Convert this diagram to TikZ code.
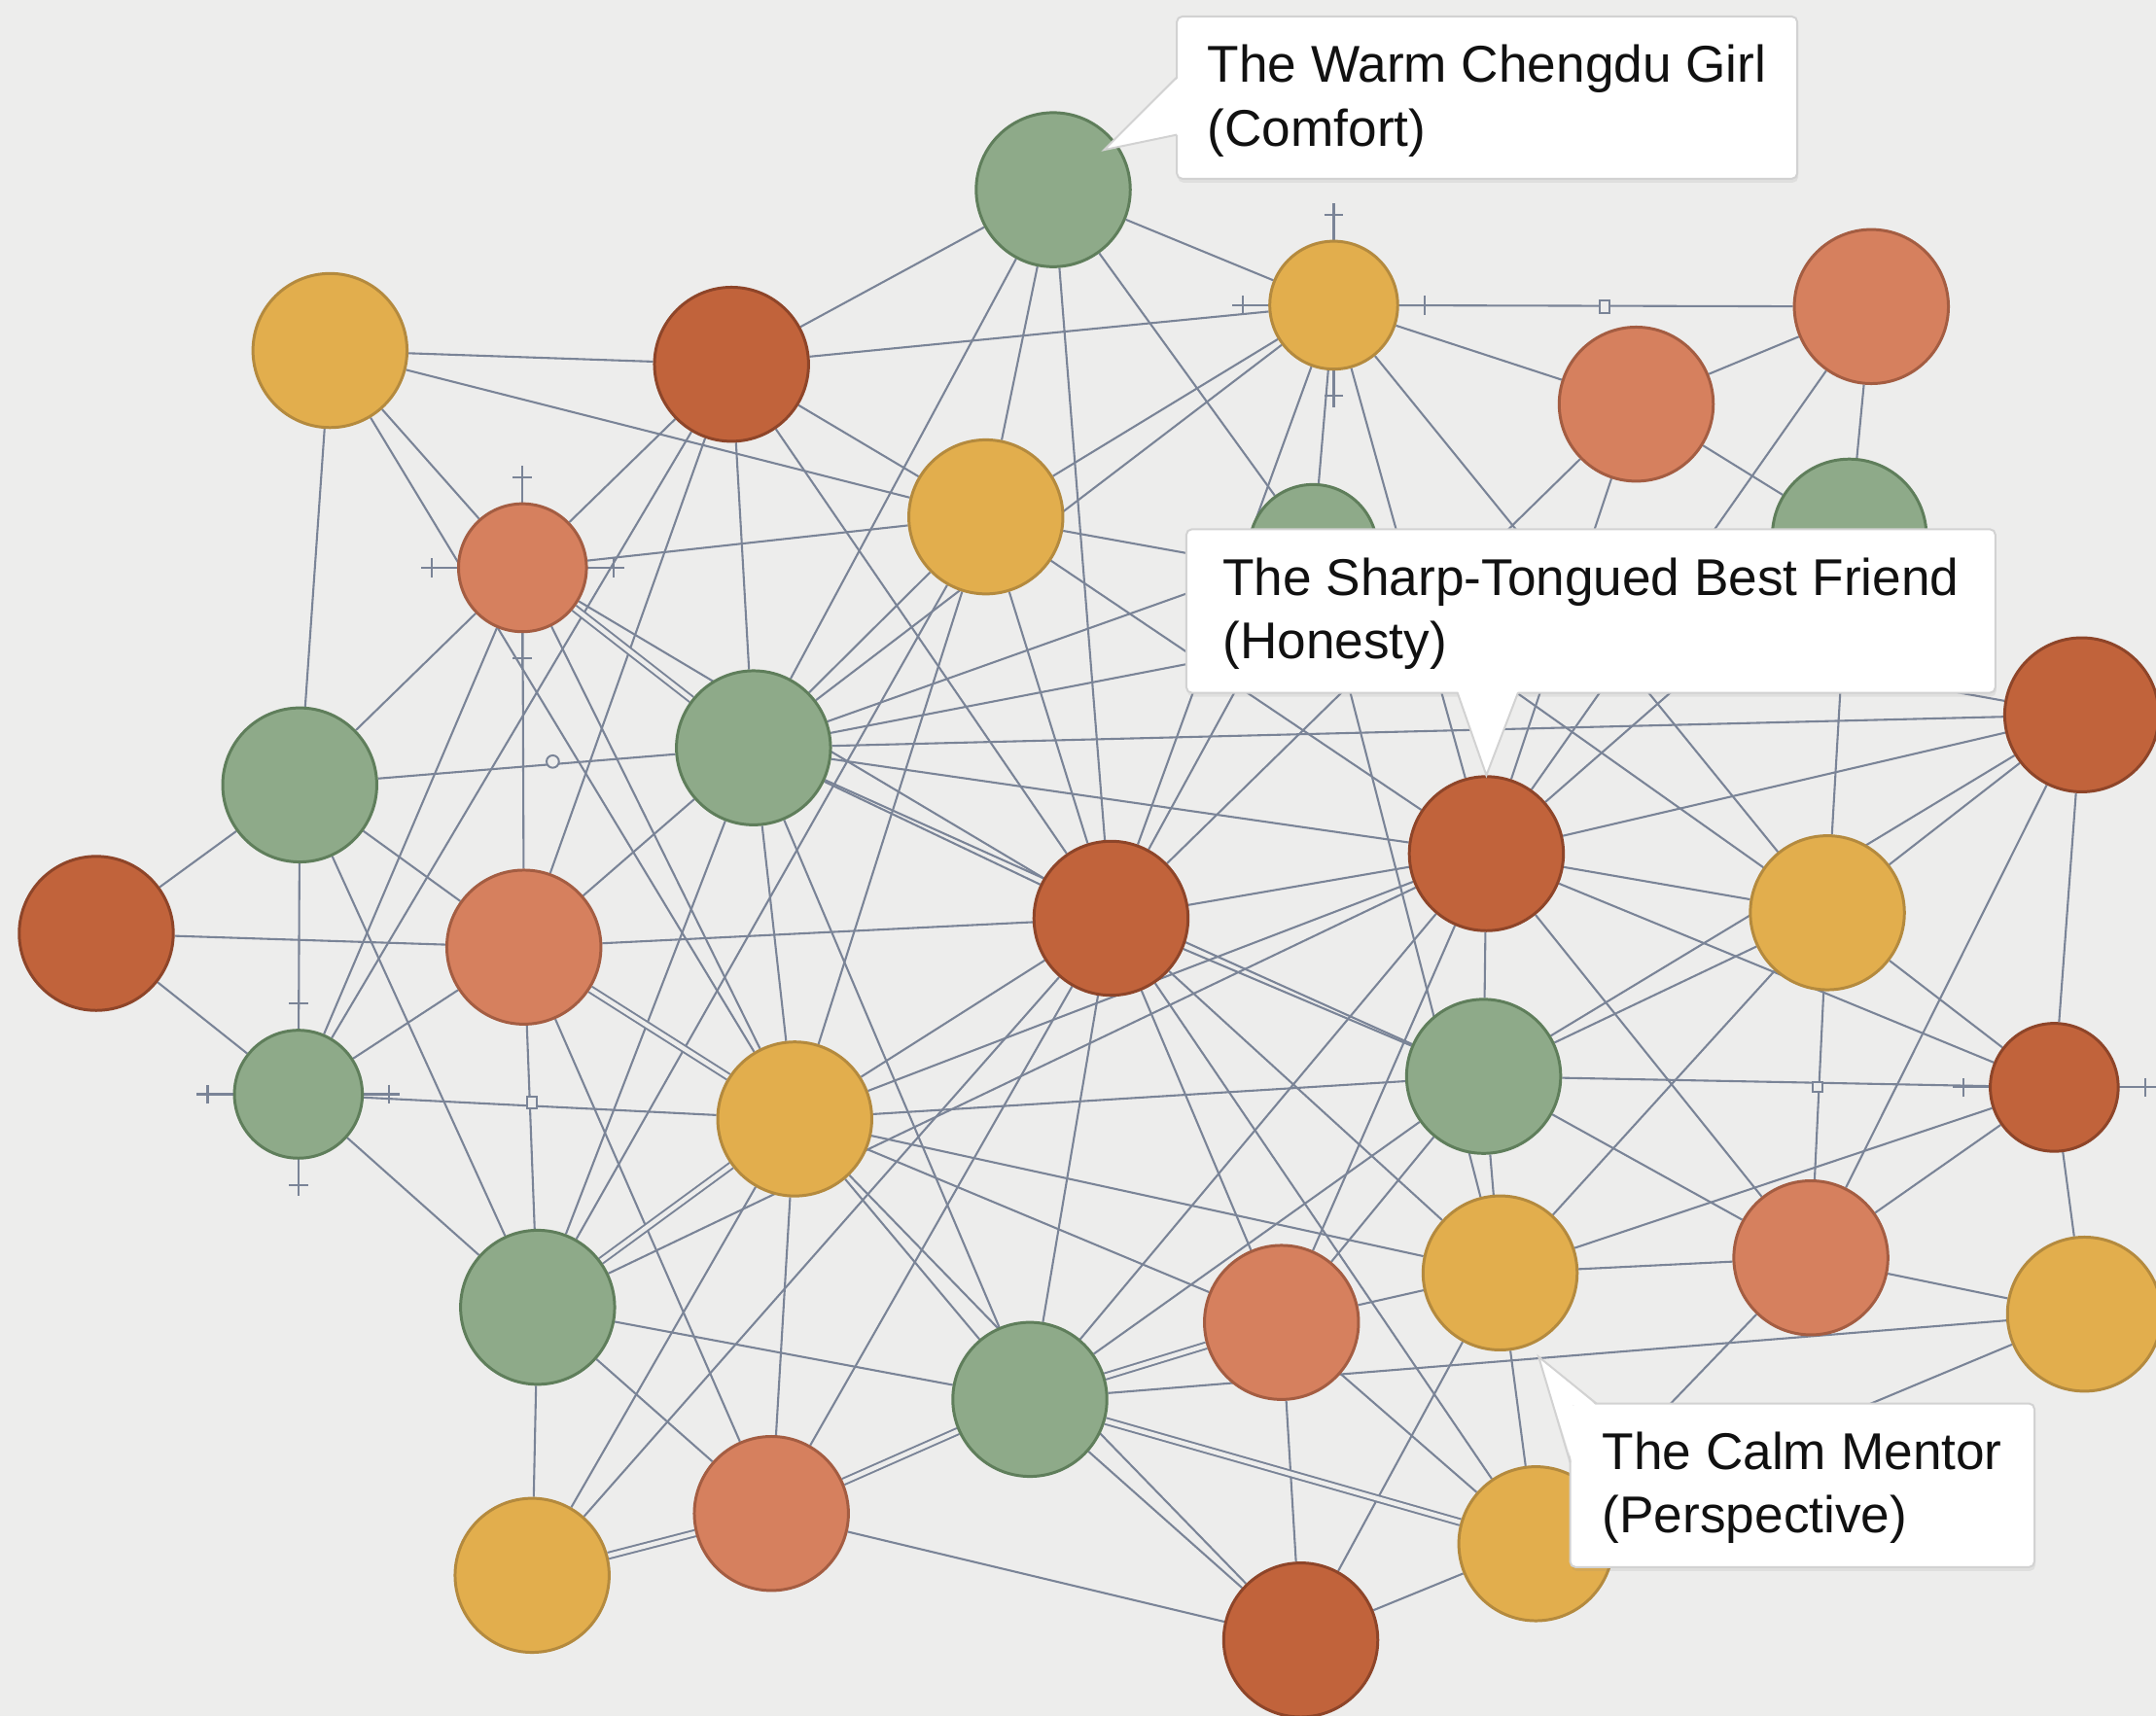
\documentclass[tikz,border=0pt]{standalone}
\usepackage{fontspec}
\setmainfont{Liberation Sans}
\usetikzlibrary{calc,shadows}
\definecolor{bgc}{HTML}{EDEDEC}
\definecolor{edgec}{HTML}{7A8497}
\definecolor{gfill}{HTML}{8EAA89}
\definecolor{gdraw}{HTML}{5F7E5B}
\definecolor{yfill}{HTML}{E2AE4D}
\definecolor{ydraw}{HTML}{B48A3E}
\definecolor{dfill}{HTML}{C1633B}
\definecolor{ddraw}{HTML}{8E4529}
\definecolor{sfill}{HTML}{D6805E}
\definecolor{sdraw}{HTML}{A45D42}
\definecolor{boxline}{HTML}{D2D2D2}
\definecolor{txt}{HTML}{111111}
\pgfdeclarelayer{bg}
\pgfsetlayers{bg,main}
\begin{document}
\begin{tikzpicture}[x=0.01cm,y=-0.01cm,
  nd/.style={circle,inner sep=0pt,minimum size=1.12cm,line width=0.6pt},
  sm/.style={minimum size=0.93cm},
  gn/.style={nd,fill=gfill,draw=gdraw},
  yn/.style={nd,fill=yfill,draw=ydraw},
  dn/.style={nd,fill=dfill,draw=ddraw},
  sn/.style={nd,fill=sfill,draw=sdraw},
  ed/.style={draw=edgec,line width=0.42pt},
  dbl/.style={draw=edgec,line width=0.4pt,double=bgc,double distance=0.9pt},
  mk/.style={draw=edgec,fill=bgc,line width=0.4pt,inner sep=0pt,minimum width=0.07cm,minimum height=0.09cm},
  lbl/.style={draw=boxline,fill=white,rounded corners=0.04cm,line width=0.4pt,align=left,
    text=txt,font=\fontsize{10.7}{13.2}\selectfont,inner sep=0pt,
    drop shadow={shadow xshift=0.2pt,shadow yshift=-0.8pt,opacity=0.12}},
  tk/.pic={\draw[ed] (0,0) -- (74,0); \draw[ed] (66,-7) -- (66,7);}
]
\useasboundingbox (0,0) rectangle (1568,1248);

% nodes
\node[gn] (G1) at (766,138) {};
\node[yn] (Y1) at (240,255) {};
\node[dn] (D1) at (532,265) {};
\node[sn,sm] (S1) at (380,413) {};
\node[yn] (Y2) at (717,376) {};
\node[yn,sm] (Y3) at (970,222) {};
\node[sn] (S2) at (1190,294) {};
\node[sn] (S3) at (1361,223) {};
\node[gn,sm] (G2) at (955,399) {};
\node[gn] (G3) at (1345,390) {};
\node[gn] (G4) at (218,571) {};
\node[gn] (G5) at (548,544) {};
\node[dn] (D2) at (70,679) {};
\node[sn] (S4) at (381,689) {};
\node[dn] (D3) at (808,668) {};
\node[dn] (D4) at (1081,621) {};
\node[dn] (D5) at (1514,520) {};
\node[yn] (Y4) at (1329,664) {};
\node[gn,sm] (G6) at (217,796) {};
\node[yn] (Y5) at (578,814) {};
\node[gn] (G7) at (1079,783) {};
\node[dn,sm] (D6) at (1494,791) {};
\node[gn] (G8) at (391,951) {};
\node[sn] (S5) at (932,962) {};
\node[yn] (Y6) at (1091,926) {};
\node[sn] (S6) at (1317,915) {};
\node[yn] (Y7) at (1516,956) {};
\node[gn] (G9) at (749,1018) {};
\node[sn] (S7) at (561,1101) {};
\node[yn] (Y8) at (387,1146) {};
\node[yn] (Y9) at (1117,1123) {};
\node[dn] (D7) at (946,1193) {};

\begin{pgfonlayer}{bg}
\fill[bgc] (0,0) rectangle (1568,1248);
\foreach \a/\b in {G1/D1,G1/G5,G1/Y2,G1/D3,G1/G2,G1/Y3,
  Y1/D1,Y1/Y2,Y1/S1,Y1/Y5,Y1/G4,
  D1/Y3,D1/S1,D1/Y2,D1/S4,D1/G5,D1/D3,D1/G6,
  S1/Y2,S1/G4,S1/S4,S1/D3,S1/Y5,S1/G6,
  Y2/G5,Y2/Y5,Y2/D3,Y2/Y3,Y2/D4,Y2/D5,Y2/G8,
  Y3/S3,Y3/S2,Y3/G5,Y3/D3,Y3/G2,Y3/D4,Y3/Y4,
  S2/S3,S2/G3,S2/D4,S2/D3,S3/G3,S3/D4,
  G2/G5,G2/D3,G2/Y4,G2/Y6,G3/D4,G3/Y4,G3/G5,
  G4/D2,G4/G6,G4/G5,G4/S4,G4/G8,D2/S4,D2/G6,
  S4/G6,S4/D3,S4/G5,S4/G8,S4/S7,G6/Y5,G6/G8,
  G5/D4,G5/D3,G5/G7,G5/Y5,G5/G9,G5/G8,G5/D5,
  D3/D4,D3/G7,D3/Y5,D3/G9,D3/Y8,D3/S7,D3/S5,D3/Y6,D3/Y9,
  D4/G7,D4/Y5,D4/G9,D4/S5,D4/Y4,D4/D5,D4/D6,D4/S6,D4/G8,
  D5/Y4,D5/D6,D5/G7,D5/S6,Y4/Y6,Y4/G7,Y4/D6,Y4/S6,
  G7/Y5,G7/S5,G7/G9,G7/Y6,G7/D6,G7/S6,D6/Y6,D6/Y7,D6/S6,
  Y5/Y8,Y5/S7,Y5/S5,Y5/G9,Y5/Y6,Y5/D7,G8/Y8,G8/G9,G8/S7,
  S7/D7,G9/D7,G9/Y7,D7/S5,D7/Y9,D7/Y6,S5/Y6,S5/Y9,
  Y6/S6,Y6/Y9,S6/Y7,S6/Y9,Y7/Y9}
  \draw[ed] (\a) -- (\b);
\foreach \a/\b in {S1/G5,S4/Y5,G8/Y5,Y8/S7,S7/G9,G9/S5,G9/Y9}
  \draw[dbl] (\a) -- (\b);
% tick marks
\foreach \r in {0,90,180,-90} {
  \pic[rotate=\r] at (S1) {tk};
  \pic[rotate=\r] at (Y3) {tk};
  \pic[rotate=\r] at (G6) {tk};
}
\pic[rotate=0] at (D6) {tk};
\pic[rotate=180] at (D6) {tk};
\end{pgfonlayer}

% small markers on lines
\node[mk] (m1) at (1167,223) {};
\node[mk] (m2) at (387,802) {};
\node[mk,minimum height=0.07cm] (m3) at (1322,791) {};
\node[mk,circle,minimum size=0.09cm] (m4) at (402,554) {};

% callouts
\node[lbl,minimum width=4.51cm,minimum height=1.18cm] (L1) at (1081.5,71)
  {\rule{0pt}{9.2pt}The Warm Chengdu Girl\\(Comfort)};
\fill[white] (857.5,56) -- (803,109) -- (857.5,98) -- cycle;
\draw[boxline,line width=0.4pt] (856,56) -- (803,109) -- (856,98);

\node[lbl,minimum width=5.88cm,minimum height=1.19cm] (L2) at (1157,444.5)
  {\rule{0pt}{8.8pt}The Sharp-Tongued Best Friend\\(Honesty)};
\fill[white] (1060,502.5) -- (1081,564) -- (1104,502.5) -- cycle;
\draw[boxline,line width=0.4pt] (1060,504) -- (1081,564) -- (1104,504);

\node[lbl,minimum width=3.375cm,minimum height=1.19cm] (L3) at (1310.75,1080.5)
  {\rule{0pt}{8.8pt}The Calm Mentor\\(Perspective)};
\fill[white] (1161,1022.5) -- (1119,987) -- (1143.5,1064) -- (1143.5,1022.5) -- cycle;
\draw[boxline,line width=0.4pt] (1161,1021) -- (1119,987) -- (1142,1064);
\end{tikzpicture}
\end{document}
